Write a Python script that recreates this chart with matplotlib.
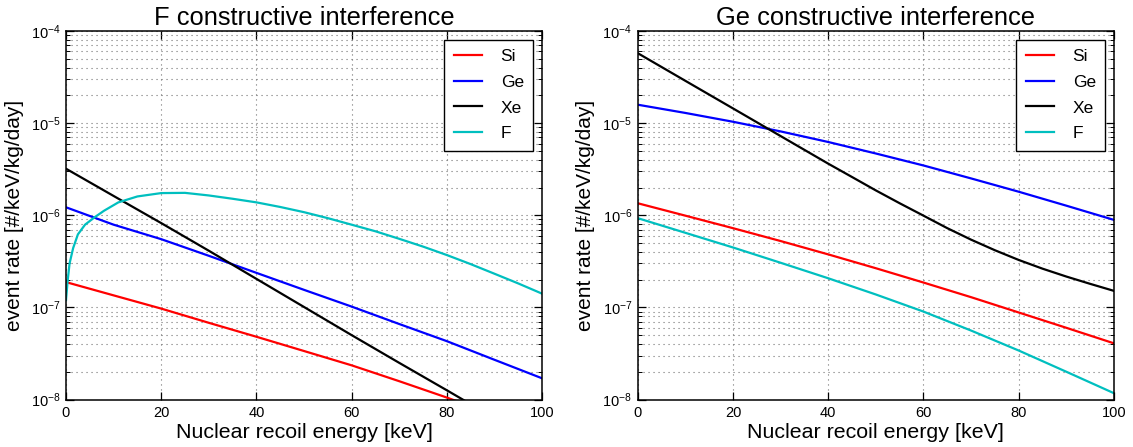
import matplotlib
matplotlib.use("Agg")
import matplotlib.pyplot as plt
from matplotlib.ticker import LogLocator, LogFormatterMathtext, NullFormatter, FixedLocator

plt.rcParams['font.family'] = ['Liberation Sans', 'DejaVu Sans']
plt.rcParams['mathtext.fontset'] = 'custom'
plt.rcParams['mathtext.rm'] = 'Liberation Sans'
plt.rcParams['mathtext.it'] = 'Liberation Sans:italic'
plt.rcParams['mathtext.default'] = 'regular'

# ---------------- data ----------------
titles = ["F constructive interference", "Ge constructive interference"]
labels = ["Si", "Ge", "Xe", "F"]
colors = ["#ff0000", "#0000ff", "#000000", "#00bfbf"]

energy = [0, 10, 20, 30, 40, 50, 60, 70, 80, 90, 100]

# Left panel: F constructive interference
left_si = [1.88e-7, 1.35e-7, 9.7e-8, 6.8e-8, 4.8e-8, 3.36e-8, 2.35e-8, 1.58e-8, 1.05e-8, 6.8e-9, 4.3e-9]
left_ge = [1.22e-6, 7.9e-7, 5.5e-7, 3.63e-7, 2.37e-7, 1.55e-7, 1.02e-7, 6.6e-8, 4.3e-8, 2.7e-8, 1.7e-8]
left_xe = [3.2e-6, 1.62e-6, 8.22e-7, 4.12e-7, 2.04e-7, 1.01e-7, 5.0e-8, 2.5e-8, 1.26e-8, 6.3e-9, 3.2e-9]
left_f_energy = [0, 0.35, 0.75, 1.5, 2.5, 4, 6, 8, 11, 15, 20, 25, 30, 35, 40, 45, 50,
                 55, 60, 65, 70, 75, 80, 85, 90, 95, 100]
left_f = [1.2e-7, 1.95e-7, 3.0e-7, 4.4e-7, 6.2e-7, 7.9e-7, 9.5e-7, 1.12e-6, 1.38e-6, 1.6e-6,
          1.74e-6, 1.75e-6, 1.64e-6, 1.51e-6, 1.38e-6, 1.23e-6, 1.08e-6,
          9.3e-7, 7.9e-7, 6.7e-7, 5.55e-7, 4.57e-7, 3.7e-7, 2.95e-7, 2.32e-7, 1.82e-7, 1.41e-7]

# Right panel: Ge constructive interference
right_si = [1.35e-6, 9.9e-7, 7.24e-7, 5.25e-7, 3.76e-7, 2.66e-7, 1.86e-7, 1.29e-7, 8.8e-8, 6.0e-8, 4.07e-8]
right_ge = [1.585e-5, 1.29e-5, 1.035e-5, 8.13e-6, 6.24e-6, 4.68e-6, 3.47e-6, 2.51e-6, 1.8e-6, 1.27e-6, 8.9e-7]
right_xe_energy = [0, 10, 20, 30, 40, 45, 50, 55, 60, 65, 70, 75, 80, 85, 90, 95, 100]
right_xe = [5.75e-5, 2.88e-5, 1.445e-5, 7.24e-6, 3.63e-6, 2.6e-6, 1.86e-6, 1.35e-6, 9.9e-7, 7.24e-7,
            5.43e-7, 4.17e-7, 3.27e-7, 2.63e-7, 2.16e-7, 1.8e-7, 1.51e-7]
right_f = [9.3e-7, 6.45e-7, 4.47e-7, 3.05e-7, 2.07e-7, 1.38e-7, 9.0e-8, 5.6e-8, 3.4e-8, 2.0e-8, 1.17e-8]

x_ticks = [0, 20, 40, 60, 80, 100]
xlabel = "Nuclear recoil energy [keV]"
ylabel = "event rate [#/keV/kg/day]"

# ---------------- figure ----------------
fig = plt.figure(figsize=(11.33, 4.47), dpi=100)
ax1 = fig.add_axes([66 / 1133, 1 - 399.5 / 447, 476 / 1133, 368.5 / 447])
ax2 = fig.add_axes([637.7 / 1133, 1 - 399.5 / 447, 476.3 / 1133, 368.5 / 447])

panels = [
    (ax1, [(energy, left_si), (energy, left_ge), (energy, left_xe), (left_f_energy, left_f)]),
    (ax2, [(energy, right_si), (energy, right_ge), (right_xe_energy, right_xe), (energy, right_f)]),
]

grid_style = dict(color='0.45', linestyle=(0, (1, 3.5)), lw=0.8)

for (ax, series), title in zip(panels, titles):
    for (xs, ys), lab, col in zip(series, labels, colors):
        ax.plot(xs, ys, color=col, lw=1.6, label=lab)
    ax.set_yscale('log')
    ax.set_xlim(0, 100)
    ax.set_ylim(1e-8, 1e-4)
    ax.xaxis.set_major_locator(FixedLocator(x_ticks))
    ax.yaxis.set_major_locator(LogLocator(base=10, numticks=10))
    ax.yaxis.set_minor_locator(LogLocator(base=10, subs=range(2, 10), numticks=20))
    ax.yaxis.set_major_formatter(LogFormatterMathtext())
    ax.yaxis.set_minor_formatter(NullFormatter())
    ax.tick_params(which='both', direction='in', top=True, right=True, labelsize=10.5)
    ax.tick_params(which='major', length=6, width=0.9)
    ax.tick_params(which='minor', length=3, width=0.7)
    ax.tick_params(axis='x', pad=5)
    ax.tick_params(axis='y', pad=4)
    ax.grid(True, which='major', axis='both', **grid_style)
    ax.grid(True, which='minor', axis='y', **grid_style)
    for sp in ax.spines.values():
        sp.set_linewidth(1.1)
    ax.set_title(title, fontsize=18.4, pad=4)
    ax.set_xlabel(xlabel, fontsize=15.4, labelpad=2)
    ax.set_ylabel(ylabel, fontsize=15, labelpad=5)
    leg = ax.legend(loc='upper right', fontsize=12.5, fancybox=False, framealpha=1,
                    edgecolor='black', handlelength=1.6, handletextpad=1.1,
                    borderpad=0.55, labelspacing=0.6, borderaxespad=0.5)
    leg.get_frame().set_linewidth(1.0)

fig.savefig("out.png", dpi=100)
